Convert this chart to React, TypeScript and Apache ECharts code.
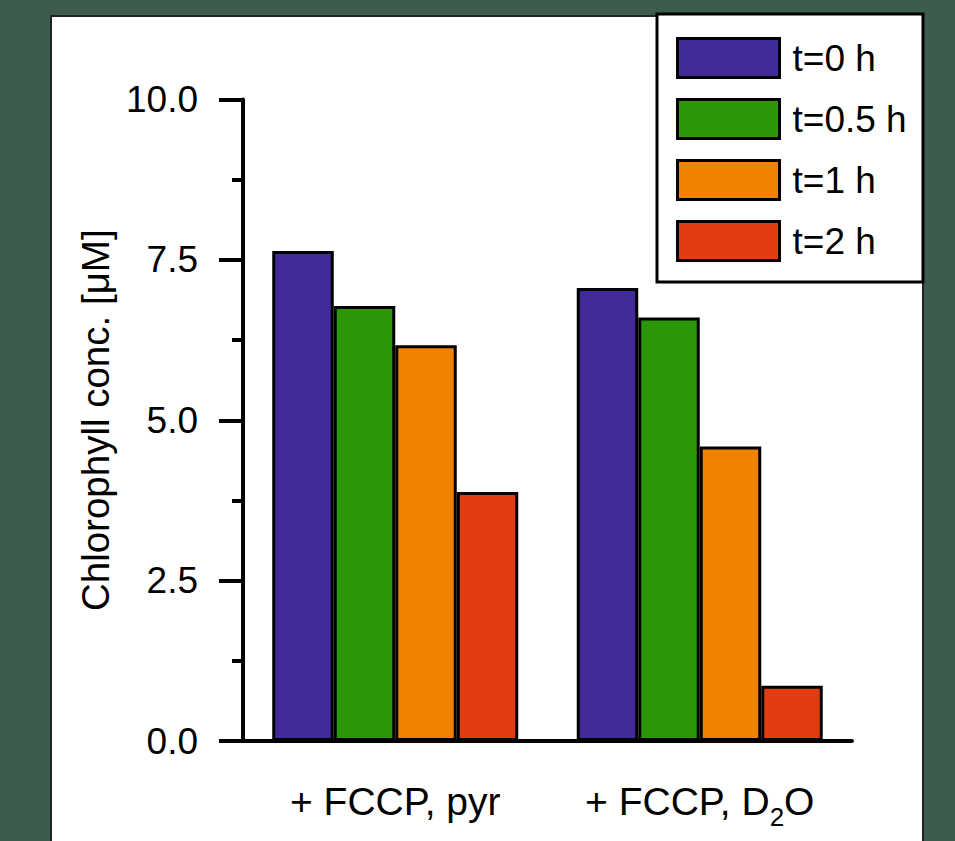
import React, { useEffect, useRef } from 'react';
import * as echarts from 'echarts';

const categories = ['+ FCCP, pyr', '+ FCCP, D2O'];
const seriesNames = ['t=0 h', 't=0.5 h', 't=1 h', 't=2 h'];
const valuesT0 = [7.64, 7.06];
const valuesT05 = [6.78, 6.6];
const valuesT1 = [6.17, 4.59];
const valuesT2 = [3.88, 0.86];
const yTickLabels = ['0.0', '2.5', '5.0', '7.5', '10.0'];
const yAxisTitle = 'Chlorophyll conc. [μM]';
const colors = ['#422a98', '#2b9606', '#f08200', '#e43c12'];

const FONT = 'Liberation Sans, Arial, Helvetica, sans-serif';

export default function App() {
  const ref = useRef<HTMLDivElement>(null);
  useEffect(() => {
    if (!ref.current) return;
    const chart = echarts.init(ref.current, undefined, { renderer: 'svg' });
    const allValues = [valuesT0, valuesT05, valuesT1, valuesT2];
    const option: any = {
      animation: false,
      backgroundColor: '#3c5c4e',
      textStyle: { fontFamily: FONT },
      graphic: [
        {
          type: 'rect',
          z: -10,
          shape: { x: 51, y: 16, width: 872, height: 840 },
          style: { fill: '#ffffff', stroke: '#222222', lineWidth: 2 },
        },
        {
          type: 'rect',
          z: 5,
          shape: { x: 657, y: 14, width: 266, height: 268 },
          style: { fill: '#ffffff', stroke: '#000000', lineWidth: 3 },
        },
      ],
      legend: {
        z: 10,
        data: seriesNames,
        orient: 'vertical',
        left: 676,
        top: 37,
        padding: 0,
        itemWidth: 102,
        itemHeight: 39,
        itemGap: 19,
        icon: 'rect',
        itemStyle: { borderColor: '#000', borderWidth: 3 },
        textStyle: { fontSize: 37, color: '#000', fontFamily: FONT, padding: [2, 0, 0, 8] },
      },
      grid: { left: 243, right: 103, top: 99.5, bottom: 100, containLabel: false },
      xAxis: {
        type: 'category',
        data: categories,
        axisLine: { lineStyle: { color: '#000', width: 4 } },
        axisTick: { alignWithLabel: true, length: 24, lineStyle: { color: '#000', width: 4 } },
        axisLabel: {
          margin: 31,
          formatter: (v: string) =>
            v.endsWith('D2O') ? '{a|' + v.slice(0, -2) + '}{s|2}{a|O}' : '{a|' + v + '}',
          rich: {
            a: { fontSize: 39, lineHeight: 58, color: '#000', fontFamily: FONT },
            s: { fontSize: 26, lineHeight: 25, verticalAlign: 'bottom', color: '#000', fontFamily: FONT },
          },
        },
      },
      yAxis: {
        type: 'value',
        min: 0,
        max: 10,
        interval: 2.5,
        name: yAxisTitle,
        nameLocation: 'middle',
        nameGap: 125,
        nameTextStyle: { fontSize: 38.5, color: '#000', fontFamily: FONT },
        axisLine: { show: true, lineStyle: { color: '#000', width: 4 } },
        axisTick: { show: true, length: 24, lineStyle: { color: '#000', width: 4 } },
        minorTick: { show: true, splitNumber: 2, length: 11, lineStyle: { color: '#000', width: 4 } },
        splitLine: { show: false },
        axisLabel: {
          margin: 45,
          fontSize: 37,
          color: '#000',
          fontFamily: FONT,
          formatter: (v: number) => yTickLabels[Math.round(v / 2.5)] ?? v.toFixed(1),
        },
      },
      series: seriesNames.map((name, i) => ({
        name,
        type: 'bar',
        data: allValues[i],
        barWidth: 61.5,
        barGap: '0%',
        itemStyle: { color: colors[i], borderColor: '#000', borderWidth: 3 },
      })),
    };
    chart.setOption(option);
    return () => chart.dispose();
  }, []);
  return (
    <div
      ref={ref}
      style={{ position: 'fixed', left: 0, top: 0, width: 955, height: 841 }}
    />
  );
}
